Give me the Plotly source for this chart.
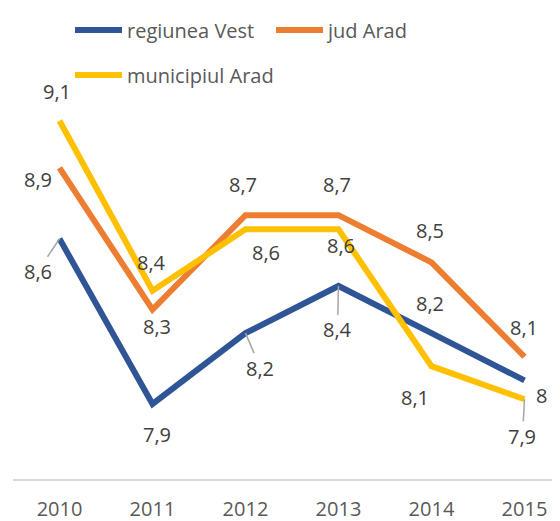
import plotly.graph_objects as go

years = ["2010", "2011", "2012", "2013", "2014", "2015"]
regiunea_vest = [8.6, 7.9, 8.2, 8.4, 8.2, 8.0]
jud_arad = [8.9, 8.3, 8.7, 8.7, 8.5, 8.1]
municipiul_arad = [9.1, 8.38, 8.64, 8.64, 8.06, 7.92]

series = [
    ("regiunea Vest", regiunea_vest, "#2F5597", "legend"),
    ("jud Arad", jud_arad, "#ED7D31", "legend"),
    ("municipiul Arad", municipiul_arad, "#FFC000", "legend2"),
]

# label offsets in pixels (ax, ay) and whether a leader line is drawn
offsets = {
    "regiunea Vest": [(-22, 33, True), (5, 31, False), (15, 35, True), (-1, 44, True), (-1, -30, False), (17, 15, False)],
    "jud Arad": [(-22, 12, False), (5, 17, False), (-2, -31, False), (-1, -31, False), (-1, -32, False), (0, -29, False)],
    "municipiul Arad": [(-3, -29, False), (-1, -28, False), (21, 23, False), (3, 16, False), (-16, 31, False), (-2, 37, True)],
}

def fmt(v):
    return ("%g" % round(v, 1)).replace(".", ",")

FONT = "Open Sans"
W, H = 552, 513  # page body has an 8px default margin
fig = go.Figure()
annotations = []
for name, vals, color, leg in series:
    fig.add_trace(go.Scatter(
        x=years, y=vals, name=name, mode="lines",
        line=dict(color=color, width=6), legend=leg,
    ))
    for i, (v, (ax, ay, lead)) in enumerate(zip(vals, offsets[name])):
        annotations.append(dict(
            x=i, y=v, xref="x", yref="y", text=fmt(v),
            showarrow=True, ax=ax, ay=ay, arrowhead=0, arrowwidth=1.5,
            arrowcolor="#A6A6A6" if lead else "rgba(0,0,0,0)", standoff=0,
            font=dict(family=FONT, size=20, color="#404040"),
        ))

fig.update_layout(
    width=W, height=H,
    margin=dict(l=5, r=0, t=92, b=42, autoexpand=False),
    paper_bgcolor="white", plot_bgcolor="white",
    annotations=annotations,
    legend=dict(orientation="h", xref="container", yref="container",
                x=62 / W, y=1 - 22 / H, xanchor="left", yanchor="middle",
                itemwidth=47, entrywidth=139,
                font=dict(family=FONT, size=20, color="#595959"),
                bgcolor="rgba(0,0,0,0)"),
    legend2=dict(orientation="h", xref="container", yref="container",
                 x=62 / W, y=1 - 67 / H, xanchor="left", yanchor="middle",
                 itemwidth=47,
                 font=dict(family=FONT, size=20, color="#595959"),
                 bgcolor="rgba(0,0,0,0)"),
    xaxis=dict(type="category", range=[-0.5, 5.382], showgrid=False,
               showline=True, linecolor="#D9D9D9", linewidth=1.5,
               ticks="", ticklabelstandoff=11, automargin=False,
               tickfont=dict(family=FONT, size=20, color="#595959")),
    yaxis=dict(range=[7.582, 9.188], visible=False, showgrid=False,
               zeroline=False, automargin=False),
)

fig.write_html("out.html")
